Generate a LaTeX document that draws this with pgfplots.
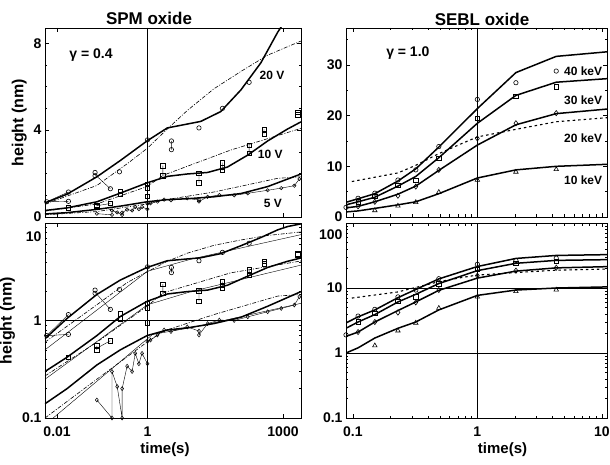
\documentclass[border=0pt]{standalone}
\usepackage{fontspec}
\setmainfont{Liberation Sans}
\usepackage{pgfplots}
\usepackage{pgfplotstable}
\pgfplotsset{compat=1.18}

% ---------- SPM oxide (left panels): time (s) vs height (nm) ----------
\pgfplotstableread{
t h
0.0054 0.65
0.0166 1.05
0.0759 1.85
0.251 2.6
0.977 3.5
2.75 4.1
6.46 4.25
15.1 4.4
41.7 4.85
117 5.85
324 7.1
759 8.5
1259 9.2
2500 9.8
}\fitA
\pgfplotstableread{
t h
0.0054 0.6
0.0759 1.45
0.355 2.45
0.977 3.15
2.75 4.05
7.59 4.9
29.5 5.9
117 6.7
457 7.45
2500 8.1
}\ddA
\pgfplotstableread{
t h
0.0054 0.3
0.0166 0.42
0.0759 0.7
0.251 1.1
0.977 1.57
2.75 1.87
7.59 1.98
21.4 2.05
58.9 2.3
166 2.85
457 3.5
1259 4.05
2500 4.38
}\fitB
\pgfplotstableread{
t h
0.0054 0.27
0.0759 0.6
0.977 1.4
2.29 1.93
69.2 3.08
2500 4.08
}\ddB
\pgfplotstableread{
t h
0.0054 0.14
0.0166 0.2
0.0759 0.35
0.251 0.5
0.977 0.7
2.75 0.8
7.59 0.84
29.5 0.93
117 1.08
457 1.4
2500 1.98
}\fitC
\pgfplotstableread{
t h
0.0054 0.1
0.0759 0.25
0.977 0.6
2.29 0.78
29.5 1.15
759 1.78
2500 1.85
}\ddC
\pgfplotstableread{
t h
0.0054 0.5
1 3.2
10 4.3
2500 7.6
1 nan
0.0054 0.25
1 1.45
10 2.0
2500 3.7
1 nan
0.0054 0.085
1.3 0.72
10 0.85
2500 1.5
}\thinlines
\pgfplotstableread{
t h
0.00589 0.7
0.0178 1.15
0.0178 0.72
0.0692 2.05
0.0692 1.9
0.151 1.3
0.240 2.08
1 3.55
3.39 3.5
3.39 3.1
13.8 4.1
45.7 5.0
178 6.2
}\ptsA
\pgfplotstableread{
t h
0.00589 0.7
0.0178 1.15
1 nan
0.00589 0.7
0.0178 0.72
1 nan
0.0692 1.95
0.151 1.3
1 nan
3.39 3.5
3.39 3.1
}\linkA
\pgfplotstableread{
t h
0.0178 0.42
0.0759 0.55
0.0759 0.5
0.151 0.62
0.251 1.17
0.251 1.04
1 1.5
1 1.35
1 0.95
2.19 2.36
2.19 1.89
13.8 2.02
13.8 1.57
45.7 2.5
45.7 2.3
45.7 2.15
178 3.3
178 2.92
380 4.05
380 3.8
2138 4.82
2138 4.7
}\ptsB
\pgfplotstableread{
t h
0.0759 0.55
0.0759 0.5
1 nan
0.0759 0.52
0.151 0.62
1 nan
2.19 2.36
2.19 1.89
1 nan
13.8 2.02
13.8 1.57
1 nan
45.7 2.5
45.7 2.15
1 nan
178 3.3
178 2.92
1 nan
380 4.05
380 3.8
}\linkB
\pgfplotstableread{
t h
0.0759 0.153
0.164 0.1
0.164 0.30
0.214 0.21
0.275 0.1
0.275 0.20
0.355 0.34
0.457 0.30
0.537 0.46
0.646 0.36
0.759 0.46
1 0.36
1 0.61
1.17 0.63
1.66 0.71
2.34 0.80
3.31 0.77
7.59 0.86
13.8 0.78
13.8 0.71
21.4 0.93
38.9 1.01
83 1.0
166 1.09
457 1.23
912 1.33
1778 1.44
2300 1.75
}\ptsC

% ---------- SEBL oxide (right panels) ----------
\pgfplotstableread{
t k40 k30 k20 k10
0.088 2.9 2.4 1.8 1.0
0.11 3.6 3.0 2.1 1.2
0.15 4.6 3.9 3.0 1.7
0.23 7.1 6.1 4.5 2.4
0.32 9.5 8.0 6.1 3.0
0.49 13.8 11.7 9.2 4.6
1 21.4 18.5 14.2 7.7
2.04 28.5 24 18.2 9.3
4.3 31.7 26.6 20.4 10.0
11 32.6 27.3 21.3 10.4
}\sebl
\pgfplotstableread{
t h
0.098 7.0
0.23 8.7
0.32 10.2
0.49 12.5
0.75 14.5
1 15.8
2.04 17.3
4.3 18.8
11 19.6
}\sebldot
\pgfplotstableread{
t h
0.088 1.9
0.11 3.7
0.15 4.7
0.23 7.3
0.32 9.3
0.49 13.9
1 23.2
2.04 26.5
4.3 28.8
}\pkA
\pgfplotstableread{
t h
0.11 3.0
0.15 4.1
0.23 6.3
0.32 7.3
0.49 11.6
1 19.5
2.04 23.8
4.3 25.7
}\pkB
\pgfplotstableread{
t h
0.11 2.1
0.15 3.0
0.23 4.2
0.32 6.0
0.49 9.3
1 15.5
2.04 18.5
4.3 20.5
}\pkC
\pgfplotstableread{
t h
0.15 1.3
0.23 2.2
0.32 2.9
0.49 4.9
1 7.3
2.04 8.9
4.3 9.4
}\pkD

\newcommand{\tickfont}{\fontsize{14}{16}\selectfont\bfseries}
\newcommand{\labfont}{\fontsize{16}{18}\selectfont\bfseries}
\newcommand{\txtfont}{\fontsize{12}{14}\selectfont\bfseries}

\pgfplotsset{
  panel/.style={scale only axis, anchor=south west,
    axis line style={line width=0.7pt},
    tick style={black, line width=0.6pt},
    tick align=inside, major tick length=4pt, minor tick length=2.5pt,
    tick label style={font=\tickfont},
    xticklabel style={yshift=-5pt},
    label style={font=\labfont},
    xlabel style={font=\fontsize{15}{17}\selectfont\bfseries, yshift=1pt},
    unbounded coords=jump},
  vline/.style={extra x ticks={1}, extra x tick labels={},
    extra x tick style={grid=major, major grid style={black, line width=0.5pt}}},
  fitl/.style={black, line width=1.5pt, no marks},
  ddl/.style={black, line width=0.6pt, no marks,
    dash pattern=on 4pt off 1.5pt on 1pt off 1.5pt},
  thinl/.style={black, line width=0.4pt, no marks},
  zig/.style={black, line width=0.4pt, mark size=1.7pt,
    mark options={fill=white, line width=0.5pt}},
  pts/.style={black, only marks, mark size=2.2pt,
    mark options={fill=white, line width=0.6pt}},
}

\begin{document}
\begin{tikzpicture}
\useasboundingbox (0,0) rectangle (610pt,464pt);

% top left: SPM oxide, linear height
\begin{axis}[panel, vline, at={(45pt,247pt)}, width=256pt, height=189pt,
  xmode=log, xmin=0.0054, xmax=2500, xtick={0.01,1,1000}, xticklabels={},
  ymin=0, ymax=8.7, ytick={0,4,8}, yticklabels={0,4,8},
  minor ytick={1,2,3,5,6,7},
  ylabel={height (nm)}]
\addplot[fitl] table[x=t,y=h] {\fitA};
\addplot[ddl] table[x=t,y=h] {\ddA};
\addplot[fitl] table[x=t,y=h] {\fitB};
\addplot[ddl] table[x=t,y=h] {\ddB};
\addplot[fitl] table[x=t,y=h] {\fitC};
\addplot[ddl] table[x=t,y=h] {\ddC};
\addplot[thinl] table[x=t,y=h] {\linkA};
\addplot[thinl] table[x=t,y=h] {\linkB};
\addplot[zig, mark=o] table[x=t,y=h] {\ptsC};
\addplot[pts, mark=o] table[x=t,y=h] {\ptsA};
\addplot[pts, mark=square] table[x=t,y=h] {\ptsB};
\node[font=\fontsize{14}{16}\selectfont\bfseries] at (rel axis cs:0.18,0.857) {γ = 0.4};
\node[font=\txtfont] at (rel axis cs:0.887,0.75) {20 V};
\node[font=\txtfont] at (rel axis cs:0.88,0.33) {10 V};
\node[font=\txtfont] at (rel axis cs:0.89,0.074) {5 V};
\end{axis}

% bottom left: SPM oxide, log height
\begin{axis}[panel, vline, at={(45pt,46pt)}, width=256pt, height=195pt,
  xmode=log, xmin=0.0054, xmax=2500, xtick={0.01,1,1000}, xticklabels={0.01,1,1000},
  ymode=log, ymin=0.1, ymax=10, ytick={0.1,1,10}, yticklabels={0.1,1,{}},
  extra y ticks={1}, extra y tick labels={},
  extra y tick style={grid=major, major grid style={black, line width=0.5pt}},
  minor tick num=0,
  ylabel={height (nm)}, xlabel={time(s)},
  xlabel style={xshift=-8pt}]
\addplot[fitl] table[x=t,y=h] {\fitA};
\addplot[ddl] table[x=t,y=h] {\ddA};
\addplot[fitl] table[x=t,y=h] {\fitB};
\addplot[ddl] table[x=t,y=h] {\ddB};
\addplot[fitl] table[x=t,y=h] {\fitC};
\addplot[ddl] table[x=t,y=h] {\ddC};
\addplot[thinl] table[x=t,y=h] {\thinlines};
\addplot[thinl] table[x=t,y=h] {\linkA};
\addplot[thinl] table[x=t,y=h] {\linkB};
\addplot[zig, mark=diamond, mark size=2pt] table[x=t,y=h] {\ptsC};
\addplot[pts, mark=o] table[x=t,y=h] {\ptsA};
\addplot[pts, mark=square] table[x=t,y=h] {\ptsB};
\end{axis}

% top right: SEBL oxide, linear height
\begin{axis}[panel, vline, at={(346pt,247pt)}, width=261pt, height=189pt,
  xmode=log, xmin=0.088, xmax=11, xtick={0.1,1,10}, xticklabels={},
  ymin=0, ymax=37.3, ytick={0,10,20,30}, yticklabels={0,10,20,30},
  minor ytick={5,15,25,35}]
\addplot[fitl] table[x=t,y=k40] {\sebl};
\addplot[fitl] table[x=t,y=k30] {\sebl};
\addplot[fitl] table[x=t,y=k20] {\sebl};
\addplot[fitl] table[x=t,y=k10] {\sebl};
\addplot[black, line width=1.1pt, no marks, dash pattern=on 2.5pt off 3pt] table[x=t,y=h] {\sebldot};
\addplot[pts, mark=o] table[x=t,y=h] {\pkA};
\addplot[pts, mark=square] table[x=t,y=h] {\pkB};
\addplot[pts, mark=diamond, mark size=2.6pt] table[x=t,y=h] {\pkC};
\addplot[pts, mark=triangle, mark size=2.6pt] table[x=t,y=h] {\pkD};
\node[font=\fontsize{14}{16}\selectfont\bfseries] at (rel axis cs:0.237,0.868) {γ = 1.0};
\node[font=\txtfont, anchor=east] at (rel axis cs:0.995,0.769) {40 keV};
\node[font=\txtfont, anchor=east] at (rel axis cs:0.995,0.619) {30 keV};
\node[font=\txtfont, anchor=east] at (rel axis cs:0.995,0.416) {20 keV};
\node[font=\txtfont, anchor=east] at (rel axis cs:0.995,0.196) {10 keV};
\end{axis}

% bottom right: SEBL oxide, log height
\begin{axis}[panel, vline, at={(346pt,46pt)}, width=261pt, height=195pt,
  xmode=log, xmin=0.088, xmax=11, xtick={0.1,1,10}, xticklabels={0.1,1,10},
  ymode=log, ymin=0.1, ymax=100, ytick={0.1,1,10,100}, yticklabels={0.1,1,10,{}},
  extra y ticks={1,10}, extra y tick labels={},
  extra y tick style={grid=major, major grid style={black, line width=0.5pt}},
  minor tick num=0,
  xlabel={time(s)}, xlabel style={xshift=26pt}]
\addplot[fitl] table[x=t,y=k40] {\sebl};
\addplot[fitl] table[x=t,y=k30] {\sebl};
\addplot[fitl] table[x=t,y=k20] {\sebl};
\addplot[fitl] table[x=t,y=k10] {\sebl};
\addplot[black, line width=1.1pt, no marks, dash pattern=on 2.5pt off 3pt] table[x=t,y=h] {\sebldot};
\addplot[pts, mark=o] table[x=t,y=h] {\pkA};
\addplot[pts, mark=square] table[x=t,y=h] {\pkB};
\addplot[pts, mark=diamond, mark size=2.6pt] table[x=t,y=h] {\pkC};
\addplot[pts, mark=triangle, mark size=2.6pt] table[x=t,y=h] {\pkD};
\end{axis}

% top tick labels of the log panels sit a little below the frame, as in the original
\node[anchor=east, font=\tickfont] at (45pt,227pt) {10};
\node[anchor=east, font=\tickfont] at (346pt,229pt) {100};
\node[font=\fontsize{17}{19}\selectfont\bfseries] at (149pt,446pt) {SPM oxide};
\node[font=\fontsize{17}{19}\selectfont\bfseries] at (482pt,445pt) {SEBL oxide};
\end{tikzpicture}
\end{document}
